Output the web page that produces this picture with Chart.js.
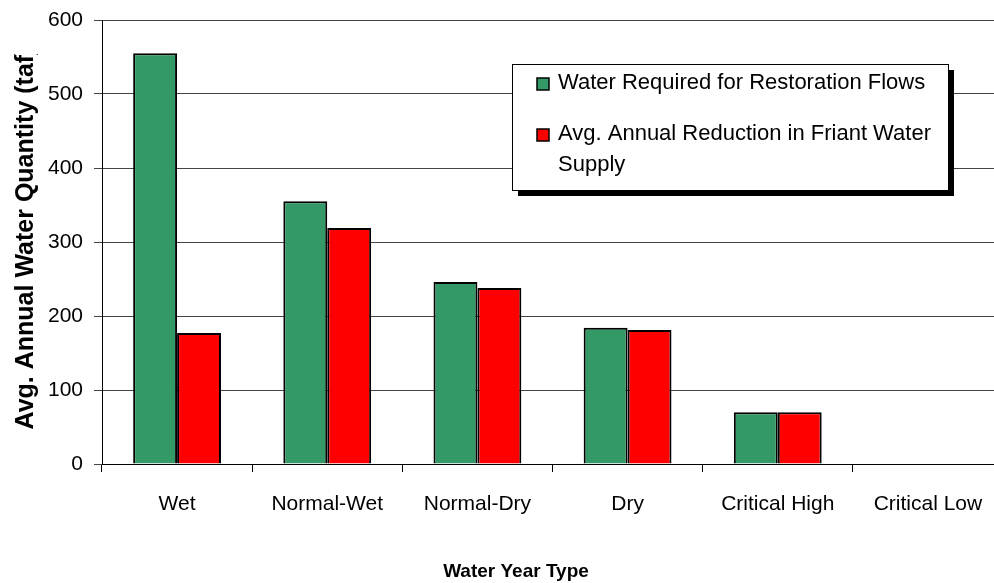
<!DOCTYPE html>
<html>
<head>
<meta charset="utf-8">
<script src="https://cdn.jsdelivr.net/npm/chart.js@4/dist/chart.umd.min.js"></script>
<style>
  html, body { margin: 0; padding: 0; background: #fff; overflow: hidden; }
  #wrap { width: 994px; height: 583px; overflow: hidden; position: relative; }
  #box { width: 1010px; height: 583px; position: absolute; left: 0; top: 0; }
</style>
</head>
<body>
<div id="wrap"><div id="box"><canvas id="chart"></canvas></div></div>
<script>
const categories = ["Wet", "Normal-Wet", "Normal-Dry", "Dry", "Critical High", "Critical Low"];
const restorationFlows = [555, 355, 246, 184, 70, 0];
const supplyReduction = [177, 319, 238, 181, 70, 0];
const seriesNames = ["Water Required for Restoration Flows", "Avg. Annual Reduction in Friant Water Supply"];
const yTicks = [0, 100, 200, 300, 400, 500, 600];
const xTitle = "Water Year Type";
const yTitle = "Avg. Annual Water Quantity (taf)";

const FONT = "'Liberation Sans', Arial, sans-serif";

// legend box with drop shadow, text wraps like the original
const boxLegend = {
  id: 'boxLegend',
  afterDraw(chart) {
    const ctx = chart.ctx;
    const x = 512, y = 64, w = 436, h = 126;
    ctx.save();
    ctx.fillStyle = '#000';
    ctx.fillRect(x + 6, y + 6, w, h);
    ctx.fillStyle = '#fff';
    ctx.fillRect(x, y, w, h);
    ctx.strokeStyle = '#000';
    ctx.lineWidth = 1;
    ctx.strokeRect(x + 0.5, y + 0.5, w, h);

    ctx.font = "22px " + FONT;
    ctx.textBaseline = 'alphabetic';
    let baseY = 89;
    chart.data.datasets.forEach((ds) => {
      ctx.fillStyle = ds.backgroundColor;
      ctx.fillRect(537, baseY - 11, 12, 12);
      ctx.strokeStyle = '#000';
      ctx.lineWidth = 1.5;
      ctx.strokeRect(537, baseY - 11, 12, 12);
      // wrap words
      const words = ds.label.split(' ');
      let lines = [], line = '';
      words.forEach(wd => {
        const test = line ? line + ' ' + wd : wd;
        if (ctx.measureText(test).width > 380 && line) { lines.push(line); line = wd; }
        else line = test;
      });
      lines.push(line);
      ctx.fillStyle = '#000';
      lines.forEach((ln, i) => ctx.fillText(ln, 558, baseY + i * 31));
      baseY += 51;
    });
    ctx.restore();
  }
};

// axis titles: y title is cut off at the top in the original
const axisTitles = {
  id: 'axisTitles',
  afterDraw(chart) {
    const ctx = chart.ctx;
    ctx.save();
    ctx.fillStyle = '#000';
    ctx.font = "bold 19px " + FONT;
    ctx.textAlign = 'center';
    ctx.textBaseline = 'alphabetic';
    ctx.fillText(xTitle, 516, 577);

    ctx.beginPath();
    ctx.rect(0, 54, 60, 529);
    ctx.clip();
    ctx.translate(33, 238);
    ctx.rotate(-Math.PI / 2);
    ctx.font = "bold 25px " + FONT;
    ctx.fillText(yTitle, 0, 0);
    ctx.restore();
  }
};

new Chart(document.getElementById('chart'), {
  type: 'bar',
  data: {
    labels: categories,
    datasets: [
      {
        label: seriesNames[0],
        data: restorationFlows,
        backgroundColor: '#339966',
        borderColor: '#000',
        borderWidth: 2,
        categoryPercentage: 0.585,
        barPercentage: 1
      },
      {
        label: seriesNames[1],
        data: supplyReduction,
        backgroundColor: '#FF0000',
        borderColor: '#000',
        borderWidth: 2,
        categoryPercentage: 0.585,
        barPercentage: 1
      }
    ]
  },
  options: {
    responsive: true,
    maintainAspectRatio: false,
    animation: false,
    layout: { padding: { top: 20, right: 7, left: 0, bottom: 0 } },
    plugins: {
      legend: { display: false },
      tooltip: { enabled: false }
    },
    scales: {
      x: {
        offset: true,
        grid: { offset: true, drawOnChartArea: false, drawTicks: true, tickLength: 8, color: '#000' },
        border: { color: '#000', width: 1 },
        ticks: { color: '#000', font: { family: FONT, size: 21 }, padding: 20, maxRotation: 0 },
        afterFit: (s) => { s.height = 119; s.paddingLeft = 0; s.paddingRight = 0; }
      },
      y: {
        min: 0,
        max: 600,
        afterBuildTicks: (s) => { s.ticks = yTicks.map(v => ({ value: v })); },
        grid: { color: '#444', lineWidth: 1, tickLength: 8 },
        border: { color: '#000', width: 1 },
        ticks: { color: '#000', font: { family: FONT, size: 21 }, padding: 11 },
        afterFit: (s) => { s.width = 102; s.paddingTop = 0; s.paddingBottom = 0; }
      }
    }
  },
  plugins: [boxLegend, axisTitles]
});
</script>
</body>
</html>
